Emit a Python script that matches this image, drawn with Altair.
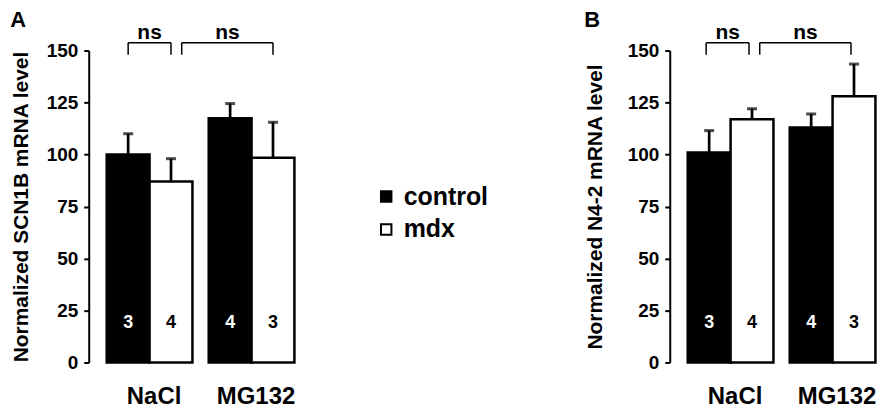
import altair as alt
import pandas as pd

# ---------------- data ----------------
groups = ["NaCl", "MG132"]
series = ["control", "mdx"]
# value order: NaCl-control, NaCl-mdx, MG132-control, MG132-mdx
scn1b_mean = [100, 87, 117.5, 98.5]
scn1b_sem = [10, 11, 7, 17]
n42_mean = [101, 117, 113, 128]
n42_sem = [10.5, 5, 6.5, 15.5]
n_animals = [3, 4, 4, 3]
panel_letters = ["A", "B"]
y_titles = ["Normalized SCN1B mRNA level", "Normalized N4-2 mRNA level"]
y_ticks = [0, 25, 50, 75, 100, 125, 150]
# significance comparisons: (bar a, bar b, label)
comparisons = [(0, 1, "ns"), (1, 3, "ns")]

# ---------------- layout / style ----------------
FONT = "Liberation Sans"
GROUP_STEP = 2.38          # bar slots per group incl. gap
X_DOMAIN = [-0.42, 4.58]
PLOT_W, PLOT_H = 215, 313
BRACKET_TOP = 153.8
BRACKET_LEG = 148
NS_Y = 155.5
N_LABEL_Y = 19
LEFT_INSET = [0.0, 0.25]   # inset of the left end of each bracket


def panel(means, sems, letter, ytitle, shift, title_pad):
    rows = []
    for gi, g in enumerate(groups):
        for si, s in enumerate(series):
            k = gi * len(series) + si
            x0 = gi * GROUP_STEP + si
            rows.append(dict(group=g, series=s, mean=means[k], top=means[k] + sems[k],
                             n=str(n_animals[k]), x0=x0, x1=x0 + 1, xc=x0 + 0.5))
    df = pd.DataFrame(rows)

    br = []
    legs = []
    for i, (a, b, lab) in enumerate(comparisons):
        xa = df.xc[a] + LEFT_INSET[i] + shift
        xb = df.xc[b] + shift
        br.append(dict(xa=xa, xb=xb, xm=(xa + xb) / 2, lab=lab))
        legs.append(dict(x=xa))
        legs.append(dict(x=xb))
    dfb = pd.DataFrame(br)
    dfl = pd.DataFrame(legs)

    xscale = alt.Scale(domain=X_DOMAIN, nice=False, zero=False)
    yscale = alt.Scale(domain=[0, 150], nice=False)
    centers = [gi * GROUP_STEP + 1 for gi in range(len(groups))]
    label_expr = "[" + ",".join("'%s'" % g for g in groups) + "][round((datum.value - 1) / %s)]" % GROUP_STEP

    xaxis = alt.Axis(values=centers, labelExpr=label_expr, domain=False, ticks=False,
                     tickSize=0, grid=False, title=None, labelFontSize=24,
                     labelFontWeight="bold", labelFont=FONT, labelColor="black",
                     labelPadding=22, labelOffset=4)
    yaxis = alt.Axis(values=y_ticks, title=ytitle, titleFontSize=21, titleFont=FONT,
                     titleFontWeight="bold", titleColor="black", titlePadding=title_pad,
                     labelFontSize=19, labelFont=FONT, labelFontWeight="bold",
                     labelColor="black", labelPadding=6, tickSize=5, tickWidth=2,
                     tickColor="black", domainColor="black", domainWidth=2,
                     grid=False)

    legend = alt.Legend(orient="none", legendX=286, legendY=134, title=None,
                        symbolType="square", symbolSize=110,
                        symbolStrokeColor="black", symbolStrokeWidth=2,
                        labelFontSize=25, labelFontWeight="bold",
                        labelFont=FONT, labelColor="black",
                        labelOffset=5, rowPadding=7)

    base = alt.Chart(df)
    bars = base.mark_bar(stroke="black", strokeWidth=2.5).encode(
        x=alt.X("x0:Q", scale=xscale, axis=xaxis),
        x2="x1:Q",
        y=alt.Y("mean:Q", scale=yscale, axis=yaxis),
        y2=alt.datum(0),
        fill=alt.Fill("series:N", scale=alt.Scale(domain=series, range=["black", "white"]),
                      legend=legend),
    )
    err = base.mark_rule(color="black", strokeWidth=2.7).encode(
        x=alt.X("xc:Q", scale=xscale, axis=xaxis),
        y=alt.Y("mean:Q", scale=yscale, axis=yaxis),
        y2="top:Q",
    )
    cap = base.mark_tick(color="black", orient="horizontal", size=10, thickness=3).encode(
        x=alt.X("xc:Q", scale=xscale, axis=xaxis),
        y=alt.Y("top:Q", scale=yscale, axis=yaxis),
    )
    ntext = base.mark_text(fontSize=18, fontWeight="bold", font=FONT, baseline="middle").encode(
        x=alt.X("xc:Q", scale=xscale, axis=xaxis),
        y=alt.YDatum(N_LABEL_Y, axis=yaxis),
        text="n:N",
        color=alt.Color("series:N", scale=alt.Scale(domain=series, range=["white", "black"]),
                        legend=None),
    )
    hline = alt.Chart(dfb).mark_rule(color="black", strokeWidth=1.5).encode(
        x=alt.X("xa:Q", scale=xscale, axis=xaxis),
        x2="xb:Q",
        y=alt.YDatum(BRACKET_TOP, axis=yaxis),
    )
    vleg = alt.Chart(dfl).mark_rule(color="black", strokeWidth=1.5).encode(
        x=alt.X("x:Q", scale=xscale, axis=xaxis),
        y=alt.YDatum(BRACKET_LEG, axis=yaxis),
        y2=alt.Y2Datum(BRACKET_TOP),
    )
    ns = alt.Chart(dfb).mark_text(fontSize=21, fontWeight="bold", font=FONT,
                                  baseline="alphabetic").encode(
        x=alt.X("xm:Q", scale=xscale, axis=xaxis),
        y=alt.YDatum(NS_Y, axis=yaxis),
        text="lab:N",
    )
    return alt.layer(bars, err, cap, ntext, hline, vleg, ns).properties(
        width=PLOT_W, height=PLOT_H,
        title=alt.TitleParams(text=letter, anchor="start", frame="bounds", fontSize=22,
                              fontWeight="bold", font=FONT, color="black", offset=-10),
    )


pA = panel(scn1b_mean, scn1b_sem, panel_letters[0], y_titles[0], 0.0, 15)
pB = panel(n42_mean, n42_sem, panel_letters[1], y_titles[1], -0.07, 22)

chart = alt.hconcat(pA, pB, spacing=282).properties(
    padding={"left": 2, "top": 0, "right": 0, "bottom": 0},
    background="white",
).configure_view(stroke=None)

chart.save("out.html", embed_options={"renderer": "svg", "actions": False})
